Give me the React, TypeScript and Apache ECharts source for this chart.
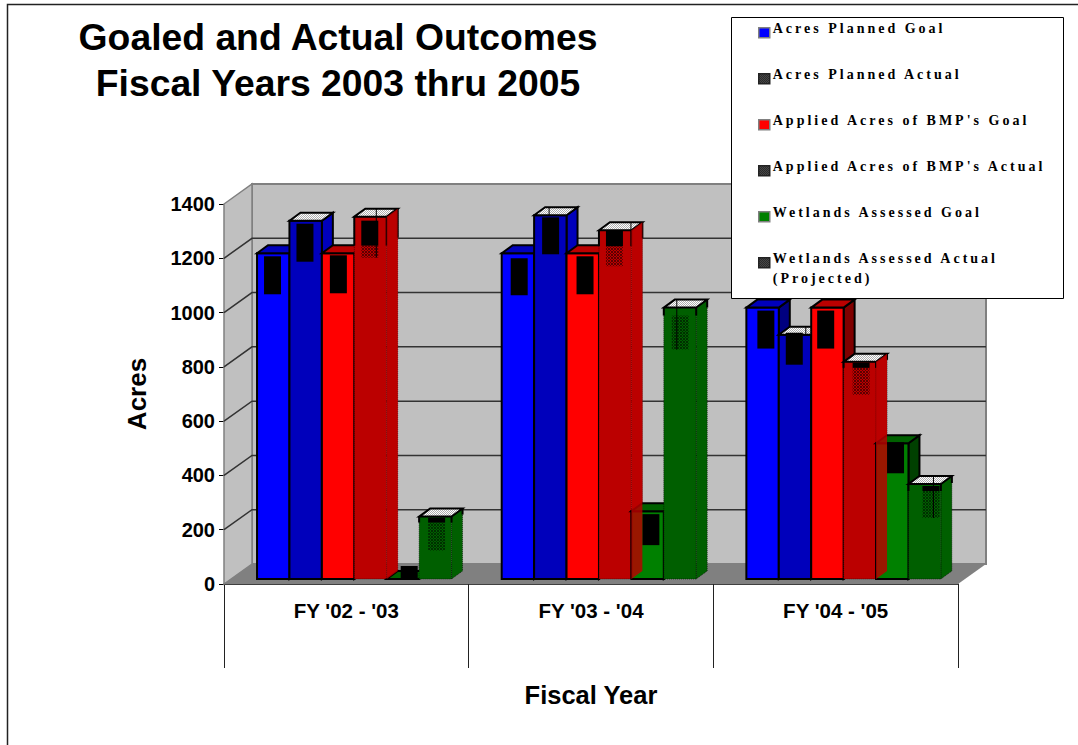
import React, { useEffect, useRef } from "react";
import * as echarts from "echarts";

// Fiscal years on the horizontal axis
const categories = ["FY '02 - '03", "FY '03 - '04", "FY '04 - '05"];
const yTicks = [0, 200, 400, 600, 800, 1000, 1200, 1400];

// Acres per fiscal year
const acresPlannedGoal = [1200, 1200, 1000];
const acresPlannedActual = [1320, 1340, 900];
const appliedGoal = [1200, 1200, 1000];
const appliedActual = [1335, 1285, 800];
const wetlandsGoal = [0, 250, 500];
const wetlandsActual = [230, 1000, 350];

const seriesNames = [
  "Acres Planned Goal",
  "Acres Planned Actual",
  "Applied Acres of BMP's Goal",
  "Applied Acres of BMP's Actual",
  "Wetlands Assessed Goal",
  "Wetlands Assessed Actual (Projected)",
];
const seriesValues = [
  acresPlannedGoal,
  acresPlannedActual,
  appliedGoal,
  appliedActual,
  wetlandsGoal,
  wetlandsActual,
];

// Face colours of each bar: front, top, side
const FACES = [
  { front: "#0000ff", top: "#0000bb", side: "#000080" },
  { front: "#0000bb", top: null, side: "#0000bb", solidEdges: true },
  { front: "#ff0000", top: "#bb0000", side: "#800000" },
  { front: "#bb0000", top: null, side: "#bb0000" },
  { front: "#008000", top: "#006000", side: "#004000" },
  { front: "#005f00", top: null, side: "#005f00" },
];

// Printer-plate artefacts on each bar, per fiscal year:
// [inset from left, start below top, black height, hatched height, seam inset, seam length below top]
const PLATES = [
  [[7, 3, 38, 0, -1, 0], [9, 5, 37, 0, -1, 0], [11, 3, 38, 0, -1, 0]],
  [[7, 3, 38, 0, -1, 0], [8, 2, 37, 0, 15, 0], [7, -2, 32, 0, 27, 0]],
  [[8, 2, 38, 0, -1, 0], [10, 3, 38, 0, -1, 0], [6, 3, 38, 0, -1, 0]],
  [[7, 4, 25, 12, 22, 41], [7, 0, 16, 20, 32, 0], [9, 1, 5, 27, -1, 0]],
  [[14, -13, 12, 0, -1, 0], [11, 3, 31, 0, -1, 0], [11, -1, 31, 0, -1, 0]],
  [[9, 1, 5, 28, -1, 0], [8, 8, 0, 34, 13, 42], [14, 2, 5, 27, 25, 34]],
];

const DEPTH_X = 11;
const DEPTH_Y = 8;
const WALL_X = 28;
const WALL_Y = 20;
const FLOOR_LIFT = 5;
const SANS = "Liberation Sans";
const SERIF = "Liberation Serif";

// Legend swatch: the square sits a little below the centre of a 60px tall box, which keeps
// it just under the text's mid-line. Zero-length segments at both ends fix the box height.
const SWATCH = "path://M0 0L0 0M11 60L11 60M0 29H11V39H0Z";

// Small repeating fills for the halftone faces
function checker(a: string, b: string | null, size = 1) {
  const c = document.createElement("canvas");
  c.width = size * 2;
  c.height = size * 2;
  const g = c.getContext("2d")!;
  if (b) {
    g.fillStyle = b;
    g.fillRect(0, 0, c.width, c.height);
  }
  g.fillStyle = a;
  g.fillRect(0, 0, size, size);
  g.fillRect(size, size, size, size);
  return { image: c, repeat: "repeat" } as any;
}

function hatch() {
  const c = document.createElement("canvas");
  c.width = 3;
  c.height = 3;
  const g = c.getContext("2d")!;
  g.fillStyle = "rgba(0,0,0,0.5)";
  [[0, 0], [1, 1], [2, 2], [2, 0], [0, 2]].forEach(([x, y]) => g.fillRect(x, y, 1, 1));
  return { image: c, repeat: "repeat" } as any;
}

function App() {
  const ref = useRef<HTMLDivElement>(null);

  useEffect(() => {
    document.body.style.margin = "0";
    const chart = echarts.init(ref.current!, undefined, { renderer: "svg" });

    const hatchFill = hatch();
    const topFill = checker("#b0b0b0", "#ffffff");
    const legendHatch = checker("#000000", "#707070");

    const barGeometry = (api: any, idx: number) => {
      const pos = api.coord([api.value(0), api.value(1)]);
      const base = api.coord([api.value(0), 0]);
      const band = api.size([1, 0])[0];
      const w = band * 0.1325;
      const x = pos[0] - band * 0.365 + idx * w;
      const top = pos[1] - FLOOR_LIFT;
      const bottom = base[1] - FLOOR_LIFT;
      return { x, w, top, bottom };
    };

    const sidePoints = (x: number, w: number, top: number, bottom: number) => [
      [x + w, top],
      [x + w + DEPTH_X, top - DEPTH_Y],
      [x + w + DEPTH_X, bottom - DEPTH_Y],
      [x + w, bottom],
    ];

    const renderBar = (idx: number) => (params: any, api: any) => {
      const { x, w, top, bottom } = barGeometry(api, idx);
      const face: any = FACES[idx];
      const isGoal = face.top !== null;
      const outlined = isGoal || face.solidEdges;
      const [inset, start, black, hatched, seam, seamLen] = PLATES[idx][params.dataIndex];
      const edge = outlined
        ? { stroke: "#000", lineWidth: 2 }
        : { stroke: "rgba(0,0,0,0.55)", lineWidth: 1, lineDash: [1, 1] };
      const children: any[] = [
        {
          type: "polygon",
          shape: { points: sidePoints(x, w, top, bottom) },
          style: { fill: face.side, ...edge },
        },
        {
          type: "rect",
          shape: { x, y: top, width: w, height: bottom - top },
          style: { fill: face.front, ...edge },
        },
        {
          type: "polygon",
          shape: {
            points: [
              [x, top],
              [x + DEPTH_X, top - DEPTH_Y],
              [x + w + DEPTH_X, top - DEPTH_Y],
              [x + w, top],
            ],
          },
          style: { fill: isGoal ? face.top : topFill, stroke: "#000", lineWidth: 2 },
        },
      ];
      if (black > 0) {
        children.push({
          type: "rect",
          shape: { x: x + inset, y: top + start, width: 17, height: black },
          style: { fill: "#000" },
        });
      }
      if (hatched > 0) {
        children.push({
          type: "rect",
          shape: { x: x + inset, y: top + start + black, width: 17, height: hatched },
          style: { fill: hatchFill },
        });
      }
      if (!isGoal && !face.solidEdges) {
        // Solid edges stop where the black plate stops
        const len = Math.max(start + black, 2);
        [x, x + w].forEach((lx) =>
          children.push({
            type: "line",
            shape: { x1: lx, y1: top, x2: lx, y2: top + len },
            style: { stroke: "#000", lineWidth: 2 },
          })
        );
        children.push({
          type: "line",
          shape: {
            x1: x + w + DEPTH_X,
            y1: top - DEPTH_Y,
            x2: x + w + DEPTH_X,
            y2: top - DEPTH_Y + len,
          },
          style: { stroke: "#000", lineWidth: 2 },
        });
      }
      if (seam >= 0) {
        children.push({
          type: "line",
          shape: { x1: x + seam, y1: top - DEPTH_Y, x2: x + seam, y2: top + seamLen },
          style: { stroke: "#000", lineWidth: 1 },
        });
      }
      return { type: "group", children };
    };

    // The halftone side of the applied-actual bar lets the neighbouring bar show through
    const renderAppliedSide = (_params: any, api: any) => {
      const { x, w, top, bottom } = barGeometry(api, 3);
      return {
        type: "polygon",
        shape: { points: sidePoints(x, w, top, bottom) },
        style: { fill: "rgba(187,0,0,0.82)", stroke: "none" },
      };
    };

    // Back wall, side wall, floor and the gridlines running across them
    const renderWalls = (params: any, api: any) => {
      const cs = params.coordSys;
      const left = cs.x;
      const right = cs.x + cs.width;
      const bottom = cs.y + cs.height;
      const ceiling = cs.y;
      const children: any[] = [
        {
          type: "rect",
          shape: {
            x: left + WALL_X,
            y: ceiling - WALL_Y,
            width: cs.width,
            height: cs.height,
          },
          style: { fill: "#c0c0c0", stroke: "#808080", lineWidth: 2 },
        },
        {
          type: "polygon",
          shape: {
            points: [
              [left, ceiling],
              [left + WALL_X, ceiling - WALL_Y],
              [left + WALL_X, bottom - WALL_Y],
              [left, bottom],
            ],
          },
          style: { fill: "#c0c0c0", stroke: "#808080", lineWidth: 1.5 },
        },
        {
          type: "polygon",
          shape: {
            points: [
              [left, bottom],
              [left + WALL_X, bottom - WALL_Y],
              [right + WALL_X, bottom - WALL_Y],
              [right, bottom],
            ],
          },
          style: { fill: "#808080" },
        },
      ];
      yTicks.slice(1, -1).forEach((t) => {
        const y = api.coord([0, t])[1];
        children.push({
          type: "polyline",
          shape: {
            points: [
              [left, y],
              [left + WALL_X, y - WALL_Y],
              [right + WALL_X, y - WALL_Y],
            ],
          },
          style: { stroke: "#333", lineWidth: 1.5, fill: "none" },
        });
      });
      return { type: "group", children };
    };

    const barSeries = seriesNames.map((name, idx) => ({
      type: "custom",
      name,
      coordinateSystem: "cartesian2d",
      renderItem: renderBar(idx),
      encode: { x: 0, y: 1 },
      data: seriesValues[idx].map((v, i) => [i, v]),
      z: 3 + idx * 0.01,
      silent: true,
    }));

    const option: any = {
      animation: false,
      title: {
        text: "Goaled and Actual Outcomes\nFiscal Years 2003 thru 2005",
        left: 333,
        top: 9,
        textAlign: "center",
        textStyle: {
          fontFamily: SANS,
          fontWeight: "bold",
          fontSize: 37.3,
          lineHeight: 46,
          color: "#000",
        },
      },
      grid: { left: 224, top: 204, width: 734, height: 380 },
      xAxis: {
        type: "category",
        data: categories,
        name: "Fiscal Year",
        nameLocation: "middle",
        nameGap: 98,
        nameTextStyle: { fontFamily: SANS, fontWeight: "bold", fontSize: 25.5, color: "#000" },
        axisLine: { lineStyle: { color: "#000", width: 1.5 } },
        axisTick: { show: true, length: 84, lineStyle: { color: "#222", width: 1 } },
        axisLabel: {
          margin: 16,
          fontFamily: SANS,
          fontWeight: "bold",
          fontSize: 20.5,
          color: "#000",
        },
        splitLine: { show: false },
      },
      yAxis: {
        type: "value",
        min: 0,
        max: 1400,
        interval: 200,
        name: "Acres",
        nameLocation: "middle",
        nameRotate: 90,
        nameGap: 74,
        nameTextStyle: { fontFamily: SANS, fontWeight: "bold", fontSize: 26, color: "#000" },
        axisLine: { show: true, onZero: false, lineStyle: { color: "#000", width: 1 } },
        axisTick: { show: true, length: 5, lineStyle: { color: "#000", width: 1 } },
        axisLabel: {
          margin: 9,
          formatter: (v: number) => String(v),
          fontFamily: SANS,
          fontWeight: "bold",
          fontSize: 20,
          color: "#000",
        },
        splitLine: { show: false },
      },
      legend: {
        orient: "vertical",
        left: 758,
        top: -2,
        padding: 0,
        itemWidth: 11,
        itemHeight: 60,
        itemGap: -15.5,
        selectedMode: false,
        z: 20,
        // The leading blank line keeps the wrapped entry's first line level with its swatch
        formatter: (n: string) => n.replace(/^(.*) \(Projected\)$/, "\n$1\n(Projected)"),
        textStyle: {
          fontFamily: SERIF,
          fontWeight: "bold",
          fontSize: 14,
          lineHeight: 20,
          color: "#000",
          padding: [0, 0, 0, -2],
        },
        data: seriesNames.map((name, idx) => ({
          name,
          icon: SWATCH,
          itemStyle: {
            color: FACES[idx].top === null ? legendHatch : FACES[idx].front,
            borderColor: FACES[idx].top === null ? "#222" : "#808080",
            borderWidth: 1.5,
          },
        })),
      },
      graphic: [
        {
          type: "polyline",
          z: 0,
          silent: true,
          shape: { points: [[1078, 4.5], [7.5, 4.5], [7.5, 745]] },
          style: { stroke: "#222", lineWidth: 1.5, fill: "none" },
        },
        {
          type: "rect",
          z: 10,
          silent: true,
          shape: { x: 731.5, y: 17.5, width: 332, height: 281 },
          style: { fill: "#fff", stroke: "#000", lineWidth: 1 },
        },
      ],
      series: [
        {
          type: "custom",
          name: "walls",
          coordinateSystem: "cartesian2d",
          renderItem: renderWalls,
          encode: { x: 0, y: 1 },
          data: [[0, 0]],
          z: 1,
          silent: true,
        },
        ...barSeries,
        {
          type: "custom",
          name: "applied side",
          coordinateSystem: "cartesian2d",
          renderItem: renderAppliedSide,
          encode: { x: 0, y: 1 },
          data: appliedActual.map((v, i) => [i, v]),
          z: 4,
          silent: true,
        },
      ],
    };

    chart.setOption(option);

    // Wide tracking on the legend labels
    ref.current!.querySelectorAll("text").forEach((el) => {
      const style = el.getAttribute("style") || "";
      if (style.includes(SERIF)) {
        (el as SVGTextElement).style.letterSpacing = "3px";
      }
    });

    return () => chart.dispose();
  }, []);

  return <div ref={ref} style={{ width: 1078, height: 745 }} />;
}

export default App;
